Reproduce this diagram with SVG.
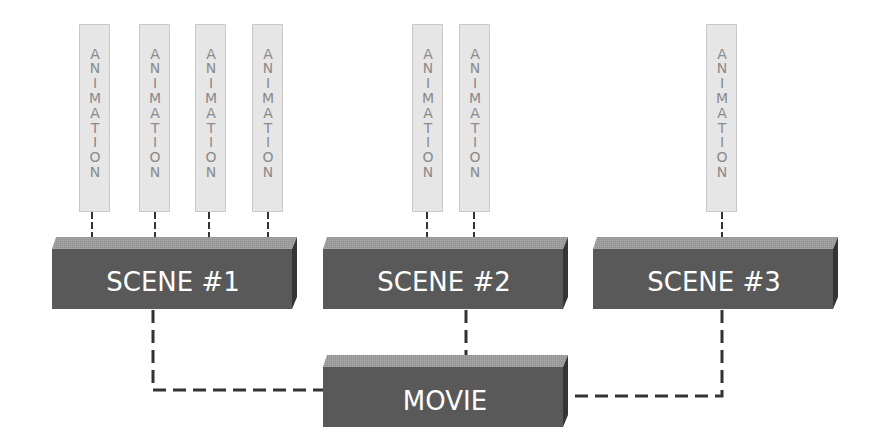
<svg xmlns="http://www.w3.org/2000/svg" width="880" height="440" viewBox="0 0 880 440">
<style>
.bar{fill:#e6e6e6;stroke:#a0a0a0;stroke-width:1;stroke-dasharray:1 1}
.anim{font-family:"DejaVu Sans",Verdana,sans-serif;font-size:14px;fill:#8a8a8a;text-anchor:middle}
.lbl{font-family:"DejaVu Sans",Verdana,sans-serif;font-size:26px;fill:#ffffff;text-anchor:middle}
.thin{fill:none;stroke:#333;stroke-width:2;stroke-dasharray:7 3}
.thick{fill:none;stroke:#333;stroke-width:3;stroke-dasharray:13 7}
</style>
<defs>
<pattern id="stip" width="2" height="2" patternUnits="userSpaceOnUse">
<rect width="2" height="2" fill="#a2a2a2"/>
<rect width="1" height="1" fill="#8c8c8c"/>
</pattern>
<g id="box">
<polygon points="0,12 4,0 245,0 240,12" fill="url(#stip)"/>
<polygon points="240,12 245,0 245,60 240,72" fill="#353535"/>
<rect x="0" y="12" width="240" height="60" fill="#595959"/>
</g>
</defs>
<g id="connectors">
<path class="thin" d="M92 212V237M155 212V237M209 212V237M268 212V237M427 212V237M474 212V237M722 212V237"/>
<path class="thick" d="M153 310V390H323"/>
<path class="thick" d="M466 310V355"/>
<path class="thick" d="M722 310V396H568"/>
</g>
<g id="anim1"><rect class="bar" x="79.5" y="24.5" width="30" height="187"/><text class="anim" x="95 95 95 95 95 95 95 95 95" y="58.5 73.3 88.1 102.9 117.7 132.5 147.3 162.1 176.9">ANIMATION</text></g>
<g id="anim2"><rect class="bar" x="139.5" y="24.5" width="30" height="187"/><text class="anim" x="155 155 155 155 155 155 155 155 155" y="58.5 73.3 88.1 102.9 117.7 132.5 147.3 162.1 176.9">ANIMATION</text></g>
<g id="anim3"><rect class="bar" x="195.5" y="24.5" width="30" height="187"/><text class="anim" x="211 211 211 211 211 211 211 211 211" y="58.5 73.3 88.1 102.9 117.7 132.5 147.3 162.1 176.9">ANIMATION</text></g>
<g id="anim4"><rect class="bar" x="252.5" y="24.5" width="30" height="187"/><text class="anim" x="268 268 268 268 268 268 268 268 268" y="58.5 73.3 88.1 102.9 117.7 132.5 147.3 162.1 176.9">ANIMATION</text></g>
<g id="anim5"><rect class="bar" x="412.5" y="24.5" width="30" height="187"/><text class="anim" x="428 428 428 428 428 428 428 428 428" y="58.5 73.3 88.1 102.9 117.7 132.5 147.3 162.1 176.9">ANIMATION</text></g>
<g id="anim6"><rect class="bar" x="459.5" y="24.5" width="30" height="187"/><text class="anim" x="475 475 475 475 475 475 475 475 475" y="58.5 73.3 88.1 102.9 117.7 132.5 147.3 162.1 176.9">ANIMATION</text></g>
<g id="anim7"><rect class="bar" x="706.5" y="24.5" width="30" height="187"/><text class="anim" x="722 722 722 722 722 722 722 722 722" y="58.5 73.3 88.1 102.9 117.7 132.5 147.3 162.1 176.9">ANIMATION</text></g>
<g id="scene1" transform="translate(52,237)"><use href="#box"/><text class="lbl" x="121" y="54">SCENE #1</text></g>
<g id="scene2" transform="translate(323,237)"><use href="#box"/><text class="lbl" x="121" y="54">SCENE #2</text></g>
<g id="scene3" transform="translate(593,237)"><use href="#box"/><text class="lbl" x="121" y="54">SCENE #3</text></g>
<g id="movie" transform="translate(323,355)"><use href="#box"/><text class="lbl" x="122" y="55">MOVIE</text></g>
</svg>
